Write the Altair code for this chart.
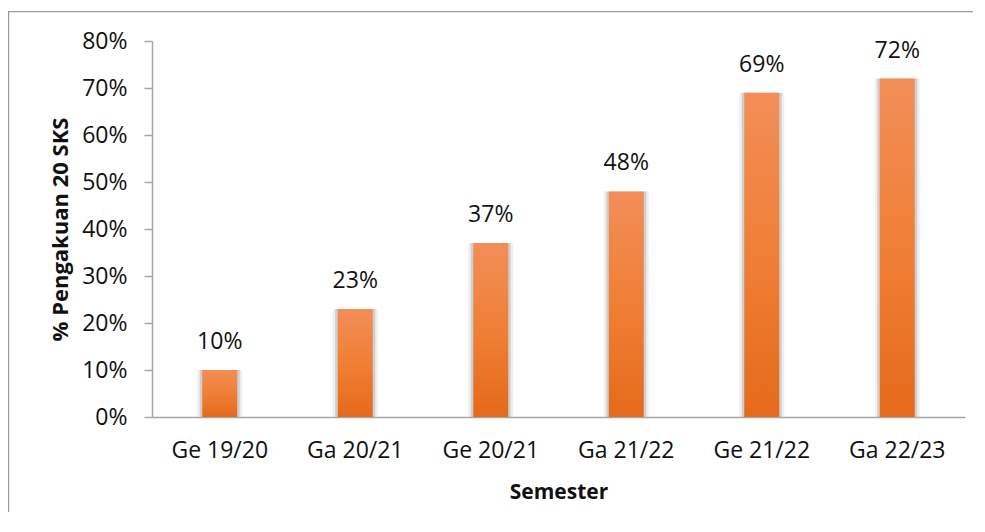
import altair as alt
import pandas as pd

semesters = ["Ge 19/20", "Ga 20/21", "Ge 20/21", "Ga 21/22", "Ge 21/22", "Ga 22/23"]
values = [0.10, 0.23, 0.37, 0.48, 0.69, 0.72]
y_ticks = [0, 0.1, 0.2, 0.3, 0.4, 0.5, 0.6, 0.7, 0.8]

df = pd.DataFrame({"Semester": semesters, "Value": values})

FONT = "Open Sans"
AXIS_GRAY = "#A6A6A6"

x_enc = alt.X(
    "Semester:N",
    sort=semesters,
    scale=alt.Scale(paddingInner=0, paddingOuter=0),
    axis=alt.Axis(
        title="Semester",
        labelAngle=0,
        ticks=False,
        labelPadding=22,
        labelFontSize=23,
        labelFont=FONT,
        labelColor="#111111",
        titleFont=FONT,
        titleFontSize=21,
        titleFontWeight="bold",
        titleColor="#111111",
        titleY=75,
        titleBaseline="middle",
        domainColor=AXIS_GRAY,
        domainWidth=1.5,
    ),
)
y_enc = alt.Y(
    "Value:Q",
    scale=alt.Scale(domain=[0, 0.8], nice=False),
    axis=alt.Axis(
        title="% Pengakuan 20 SKS",
        values=y_ticks,
        format=".0%",
        grid=False,
        tickSize=8,
        tickColor=AXIS_GRAY,
        tickWidth=1.5,
        domainColor=AXIS_GRAY,
        domainWidth=1.5,
        labelPadding=17,
        labelFontSize=23,
        labelFont=FONT,
        labelColor="#111111",
        titleFont=FONT,
        titleFontSize=22,
        titleFontWeight="bold",
        titleColor="#111111",
        titleX=-92,
        titleBaseline="middle",
    ),
)

base = alt.Chart(df)

shadow1 = base.mark_bar(size=45, color="#d0d0d0", opacity=0.35).encode(x=x_enc, y=y_enc)
shadow2 = base.mark_bar(size=40, color="#a8a8a8", opacity=0.45).encode(x=x_enc, y=y_enc)

bars = base.mark_bar(
    size=35,
    color=alt.Gradient(
        gradient="linear",
        stops=[
            alt.GradientStop(color="#F28E58", offset=0),
            alt.GradientStop(color="#F07F36", offset=0.5),
            alt.GradientStop(color="#E56A1A", offset=1),
        ],
        x1=0, x2=0, y1=0, y2=1,
    ),
).encode(x=x_enc, y=y_enc)

labels = base.mark_text(
    baseline="alphabetic", dy=-21, fontSize=23, font=FONT, color="#111111"
).encode(x=x_enc, y=y_enc, text=alt.Text("Value:Q", format=".0%"))

one = pd.DataFrame({"a": [0]})
frame_top = alt.Chart(one).mark_rect(color="#9a9a9a").encode(
    x=alt.value(-144), x2=alt.value(821), y=alt.value(-30), y2=alt.value(-28.8)
)
frame_left = alt.Chart(one).mark_rect(color="#9a9a9a").encode(
    x=alt.value(-144), x2=alt.value(-142.8), y=alt.value(-30), y2=alt.value(480)
)

chart = alt.layer(frame_top, frame_left, shadow1, shadow2, bars, labels).properties(
    width=813,
    height=376,
    padding={"left": 144, "top": 33, "right": 8, "bottom": 95},
    autosize=alt.AutoSizeParams(type="none"),
    background="white",
).configure_view(stroke=None)

chart.save("out.html", embed_options={"renderer": "svg", "actions": False})
